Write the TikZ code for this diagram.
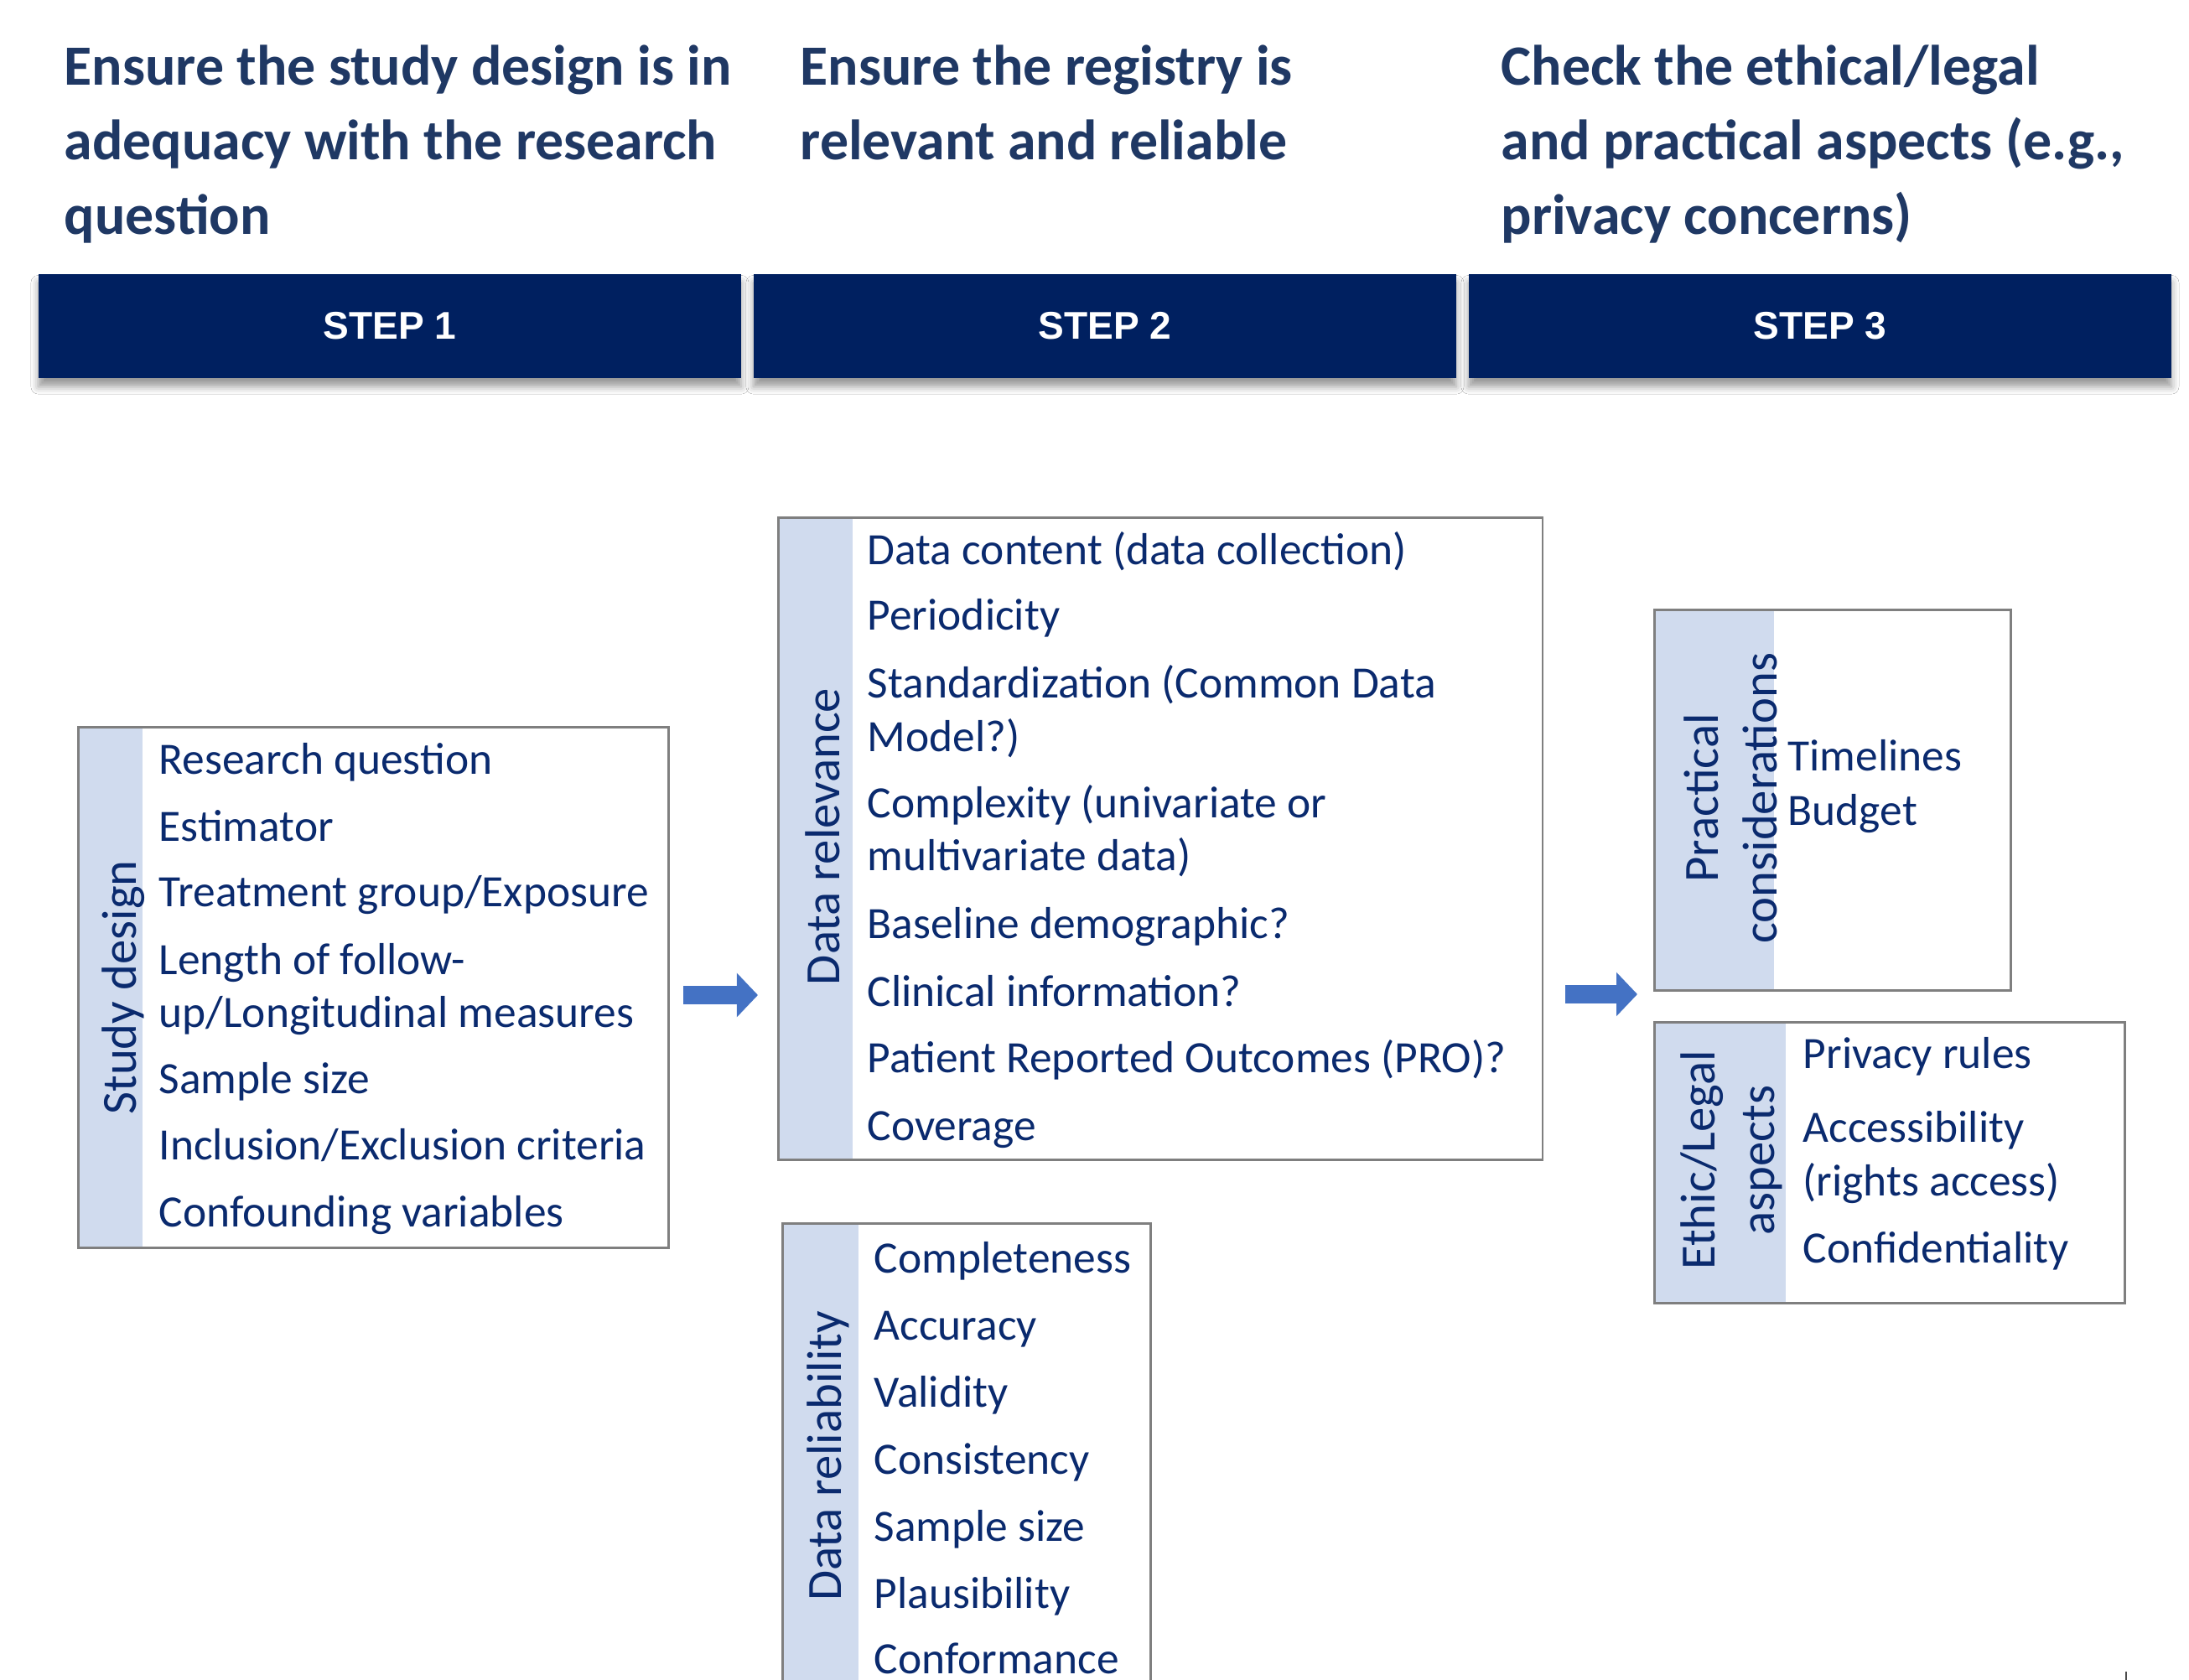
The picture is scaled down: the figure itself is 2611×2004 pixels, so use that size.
\documentclass[tikz,border=0pt]{standalone}
\usepackage{fontspec}
\setmainfont{Carlito}
\newfontfamily\stepfamily{Liberation Sans}
\usetikzlibrary{arrows.meta,shadows.blur}

\definecolor{navy}{HTML}{002060}
\definecolor{headblue}{HTML}{1F3864}
\definecolor{itemblue}{HTML}{0A2A6E}
\definecolor{sideblue}{HTML}{D0DBEE}
\definecolor{framegrey}{HTML}{7F7F7F}
\definecolor{arrowblue}{HTML}{4472C4}

\newcommand\headfont{\bfseries\fontsize{19.3}{25.3}\selectfont}
\newcommand\itemfont{\fontsize{15.2}{17.9}\selectfont}
\newcommand\labelfont{\fontsize{16.7}{20.5}\selectfont}
\newcommand\stepfont{\stepfamily\bfseries\fontsize{13.1}{15}\selectfont}

\begin{document}
\begin{tikzpicture}[x=0.01cm,y=-0.01cm,
  head/.style={anchor=base west,inner sep=0pt,font=\headfont,text=headblue},
  item/.style={anchor=base west,inner sep=0pt,font=\itemfont,text=itemblue},
  sidelabel/.style={rotate=90,anchor=base,inner sep=0pt,font=\labelfont,text=itemblue},
  stepbar/.style={anchor=north west,fill=navy,draw=none,inner sep=0pt,
    minimum width=8.38cm,minimum height=1.24cm,font=\stepfont,text=white,
    blur shadow={shadow xshift=0pt,shadow yshift=-3pt,shadow blur radius=2.5pt,shadow opacity=40}},
  frame/.style={anchor=north west,draw=framegrey,line width=0.8pt,inner sep=0pt},
  sidebar/.style={fill=sideblue,draw=none},
  flow/.style={draw=arrowblue,line width=0.21cm,-{Triangle[length=0.25cm,width=0.51cm]}}]

\useasboundingbox (0,0) rectangle (2611,2004);
\clip (0,0) rectangle (2611,2004);
\fill[white] (0,0) rectangle (2611,2004);

% ---- headings ----
\node[head] (h1a) at (76,102) {Ensure the study design is in};
\node[head] (h1b) at (76,191) {adequacy with the research};
\node[head] (h1c) at (76,280) {question};
\node[head] (h2a) at (954,102) {Ensure the registry is};
\node[head] (h2b) at (954,191) {relevant and reliable};
\node[head] (h3a) at (1790,102) {Check the ethical/legal};
\node[head] (h3b) at (1790,191) {and practical aspects (e.g.,};
\node[head] (h3c) at (1790,280) {privacy concerns)};

% ---- step bars ----
\node[stepbar] (s1) at (45,326) {STEP 1};
\node[stepbar] (s2) at (898,326) {STEP 2};
\node[stepbar] (s3) at (1751,326) {STEP 3};

% ---- study design ----
\fill[sidebar] (92,866) rectangle (170,1487);
\node[frame,minimum width=7.04cm,minimum height=6.21cm] (sd) at (92,866) {};
\node[sidelabel] (sdl) at (162,1178) {Study design};
\node[item] (sd1) at (189,924) {Research question};
\node[item] (sd2) at (189,1004) {Estimator};
\node[item] (sd3) at (189,1082) {Treatment group/Exposure};
\node[item] (sd4) at (189,1163) {Length of follow-};
\node[item] (sd4b) at (189,1226) {up/Longitudinal measures};
\node[item] (sd5) at (189,1305) {Sample size};
\node[item] (sd6) at (189,1383) {Inclusion/Exclusion criteria};
\node[item] (sd7) at (189,1464) {Confounding variables};

% ---- data relevance ----
\fill[sidebar] (927,616) rectangle (1017,1382);
\node[frame,minimum width=9.11cm,minimum height=7.66cm] (dr) at (927,616) {};
\node[sidelabel] (drl) at (1001,998) {Data relevance};
\node[item] (dr1) at (1034,674) {Data content (data collection)};
\node[item] (dr2) at (1034,752) {Periodicity};
\node[item] (dr3) at (1034,833) {Standardization (Common Data};
\node[item] (dr3b) at (1034,897) {Model?)};
\node[item] (dr4) at (1034,976) {Complexity (univariate or};
\node[item] (dr4b) at (1034,1039) {multivariate data)};
\node[item] (dr5) at (1034,1120) {Baseline demographic?};
\node[item] (dr6) at (1034,1201) {Clinical information?};
\node[item] (dr7) at (1034,1280) {Patient Reported Outcomes (PRO)?};
\node[item] (dr8) at (1034,1360) {Coverage};

% ---- data reliability ----
\fill[sidebar] (932,1458) rectangle (1024,2040);
\node[frame,minimum width=4.39cm,minimum height=5.82cm] (rl) at (932,1458) {};
\node[sidelabel] (rll) at (1003,1737) {Data reliability};
\node[item] (rl1) at (1042,1518) {Completeness};
\node[item] (rl2) at (1042,1598) {Accuracy};
\node[item] (rl3) at (1042,1678) {Validity};
\node[item] (rl4) at (1042,1758) {Consistency};
\node[item] (rl5) at (1042,1838) {Sample size};
\node[item] (rl6) at (1042,1918) {Plausibility};
\node[item] (rl7) at (1042,1996) {Conformance};

% ---- practical considerations ----
\fill[sidebar] (1972,726) rectangle (2116,1180);
\node[frame,minimum width=4.25cm,minimum height=4.54cm] (pc) at (1972,726) {};
\node[sidelabel] (pcl1) at (2049,952) {Practical};
\node[sidelabel] (pcl2) at (2119,952) {considerations};
\node[item] (pc1) at (2132,920) {Timelines};
\node[item] (pc2) at (2132,985) {Budget};

% ---- ethic / legal aspects ----
\fill[sidebar] (1972,1218) rectangle (2130,1553);
\node[frame,minimum width=5.61cm,minimum height=3.35cm] (el) at (1972,1218) {};
\node[sidelabel] (ell1) at (2045,1384) {Ethic/Legal};
\node[sidelabel] (ell2) at (2116,1384) {aspects};
\node[item] (el1) at (2150,1275) {Privacy rules};
\node[item] (el2) at (2150,1363) {Accessibility};
\node[item] (el2b) at (2150,1427) {(rights access)};
\node[item] (el3) at (2150,1507) {Confidentiality};

% ---- flow arrows between the steps ----
\coordinate (a1s) at (815,1187);
\coordinate (a1e) at (904,1187);
\coordinate (a2s) at (1867,1186);
\coordinate (a2e) at (1953,1186);
\draw[flow] (a1s) -- (a1e);
\draw[flow] (a2s) -- (a2e);

% small mark at the lower edge
\draw[black!70,line width=0.6pt] (2536,1994) -- (2536,2004);
\end{tikzpicture}
\end{document}
